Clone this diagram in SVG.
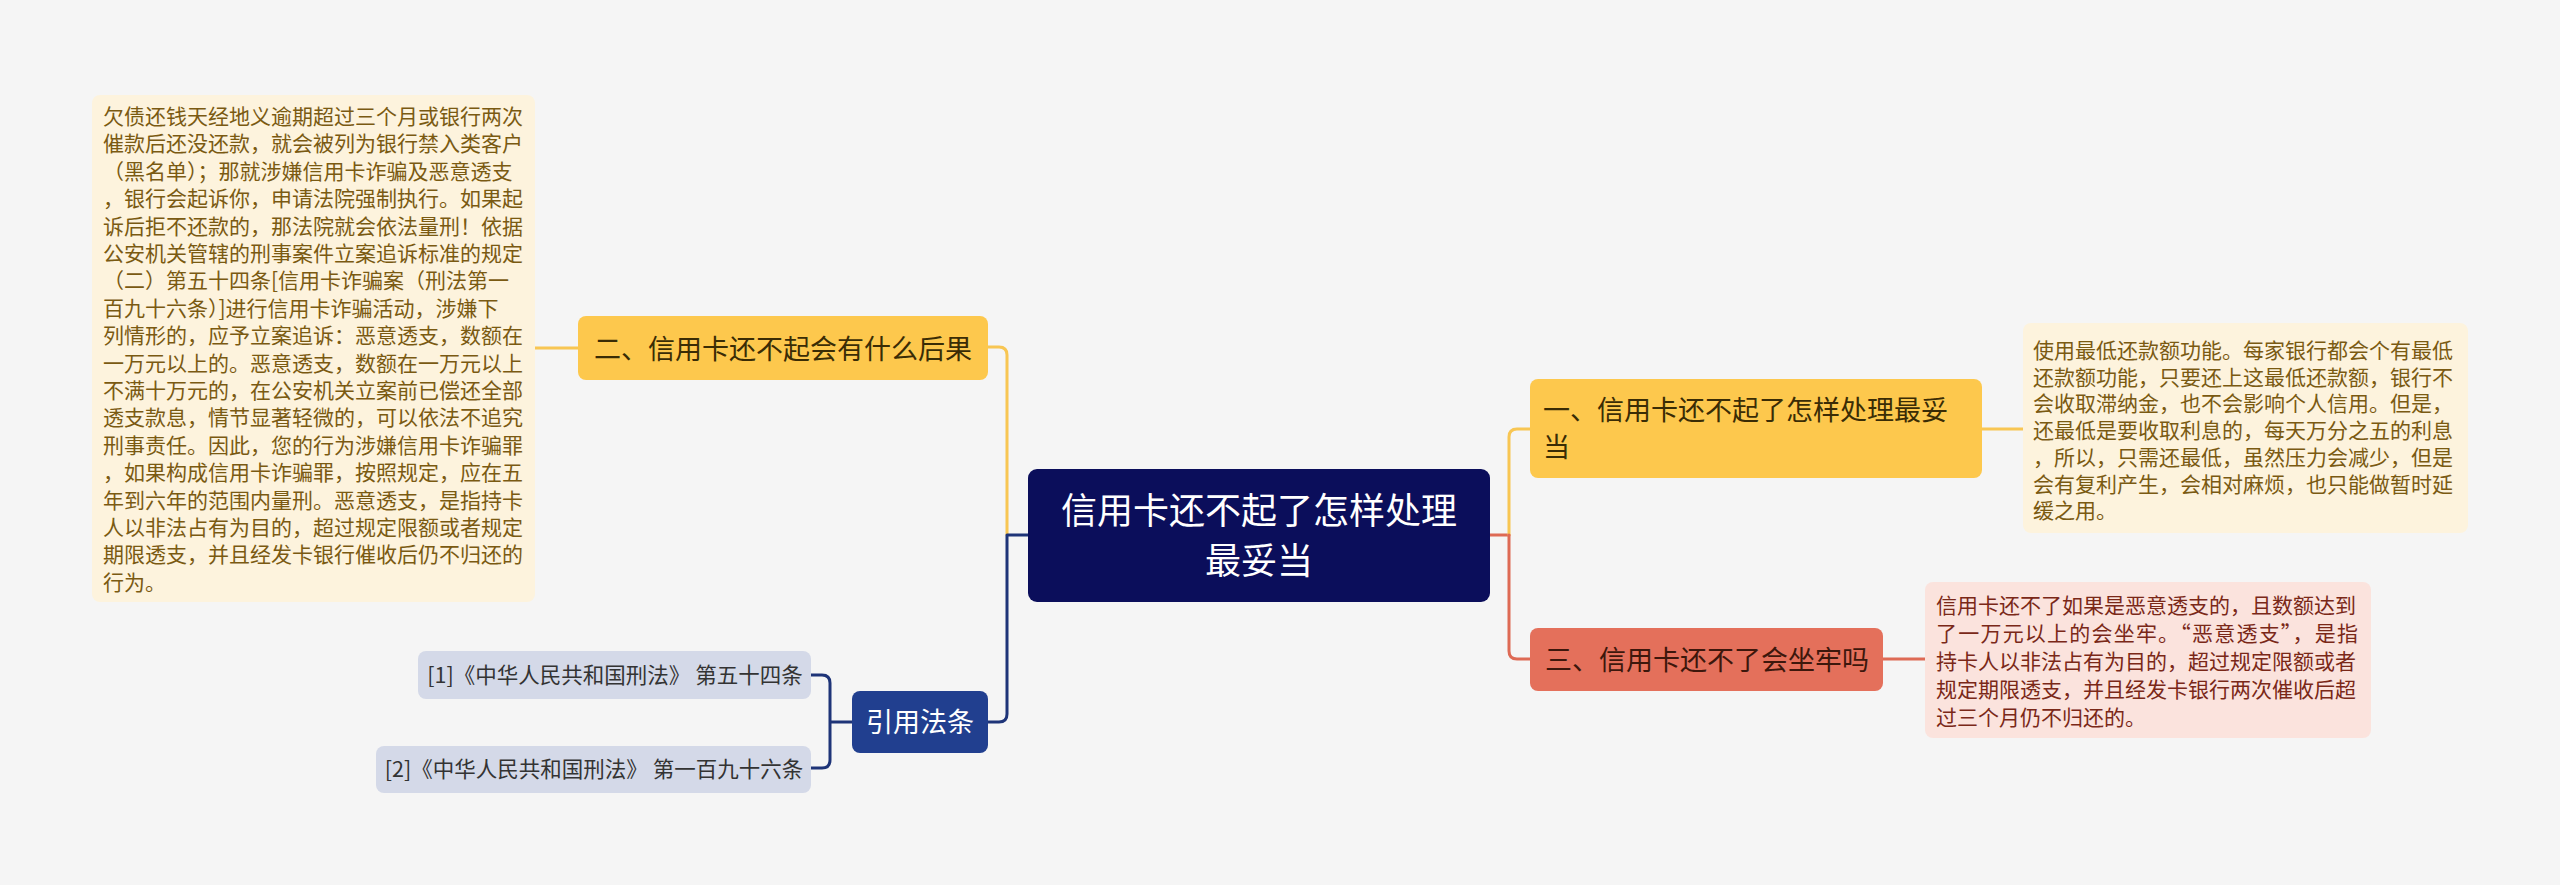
<svg xmlns="http://www.w3.org/2000/svg" width="2560" height="885" viewBox="0 0 2560 885">
<style>
text{font-family:"Noto Sans CJK SC","Noto Sans",sans-serif}
.c{fill:none;stroke-width:3;stroke-linecap:round;stroke-linejoin:round}
.y{stroke:#f8c653}.n{stroke:#1e3478}.r{stroke:#de6a55}
.body{font-size:21px}
.yb{fill:#fdf3dd}.ybt{fill:#7a5a12}
.rb{fill:#fbe3dd}.rbt{fill:#7a2818}
.lvl1{font-size:27px}
</style>
<rect width="2560" height="885" fill="#f5f5f5"/>
<g id="connectors">
<path class="c y" d="M988 347H999Q1007 347 1007 355V535"/>
<path class="c n" d="M1028 535H1007V714Q1007 722 999 722H988"/>
<path class="c y" d="M535 348H578"/>
<path class="c n" d="M852 722H830M811 675H822Q830 675 830 683V760Q830 768 822 768H811"/>
<path class="c r" d="M1490 535H1509"/>
<path class="c y" d="M1509 535V437Q1509 429 1517 429H1530"/>
<path class="c r" d="M1509 535V651Q1509 659 1517 659H1530"/>
<path class="c y" d="M1982 429H2023"/>
<path class="c r" d="M1883 659H1925"/>
</g>
<g id="root">
<rect x="1028" y="469" width="462" height="133" rx="9" fill="#0b0e5b"/>
<text x="1259" y="524" font-size="36" fill="#ffffff" text-anchor="middle">信用卡还不起了怎样处理</text>
<text x="1259" y="574" font-size="36" fill="#ffffff" text-anchor="middle">最妥当</text>
</g>
<g id="node-er">
<rect x="578" y="316" width="410" height="64" rx="8" fill="#fdc84d"/>
<text x="783" y="359" class="lvl1" fill="#3a2c05" text-anchor="middle">二、信用卡还不起会有什么后果</text>
</g>
<g id="node-er-text">
<rect x="92" y="95" width="443" height="507" rx="8" class="yb"/>
<text class="body ybt" x="103">
<tspan x="103" y="124">欠债还钱天经地义逾期超过三个月或银行两次</tspan>
<tspan x="103" y="151.4">催款后还没还款，就会被列为银行禁入类客户</tspan>
<tspan x="103" y="178.8">（黑名单）；那就涉嫌信用卡诈骗及恶意透支</tspan>
<tspan x="103" y="206.2">，银行会起诉你，申请法院强制执行。如果起</tspan>
<tspan x="103" y="233.6">诉后拒不还款的，那法院就会依法量刑！依据</tspan>
<tspan x="103" y="261">公安机关管辖的刑事案件立案追诉标准的规定</tspan>
<tspan x="103" y="288.4">（二）第五十四条[信用卡诈骗案（刑法第一</tspan>
<tspan x="103" y="315.8">百九十六条）]进行信用卡诈骗活动，涉嫌下</tspan>
<tspan x="103" y="343.2">列情形的，应予立案追诉：恶意透支，数额在</tspan>
<tspan x="103" y="370.6">一万元以上的。恶意透支，数额在一万元以上</tspan>
<tspan x="103" y="398">不满十万元的，在公安机关立案前已偿还全部</tspan>
<tspan x="103" y="425.4">透支款息，情节显著轻微的，可以依法不追究</tspan>
<tspan x="103" y="452.8">刑事责任。因此，您的行为涉嫌信用卡诈骗罪</tspan>
<tspan x="103" y="480.2">，如果构成信用卡诈骗罪，按照规定，应在五</tspan>
<tspan x="103" y="507.6">年到六年的范围内量刑。恶意透支，是指持卡</tspan>
<tspan x="103" y="535">人以非法占有为目的，超过规定限额或者规定</tspan>
<tspan x="103" y="562.4">期限透支，并且经发卡银行催收后仍不归还的</tspan>
<tspan x="103" y="589.8">行为。</tspan>
</text>
</g>
<g id="node-law">
<rect x="852" y="691" width="136" height="62" rx="8" fill="#213f8f"/>
<text x="920" y="732" class="lvl1" fill="#ffffff" text-anchor="middle">引用法条</text>
</g>
<g id="node-ref1">
<rect x="418" y="651" width="393" height="48" rx="8" fill="#d4d9e8"/>
<text x="615" y="683" font-size="21.5" fill="#333333" text-anchor="middle">[1]《中华人民共和国刑法》 第五十四条</text>
</g>
<g id="node-ref2">
<rect x="376" y="746" width="435" height="47" rx="8" fill="#d4d9e8"/>
<text x="594" y="777" font-size="21.5" fill="#333333" text-anchor="middle">[2]《中华人民共和国刑法》 第一百九十六条</text>
</g>
<g id="node-yi">
<rect x="1530" y="379" width="452" height="99" rx="8" fill="#fdc84d"/>
<text class="lvl1" fill="#3a2c05">
<tspan x="1543" y="420">一、信用卡还不起了怎样处理最妥</tspan>
<tspan x="1543" y="457">当</tspan>
</text>
</g>
<g id="node-yi-text">
<rect x="2023" y="323" width="445" height="210" rx="8" class="yb"/>
<text class="body ybt">
<tspan x="2033" y="358">使用最低还款额功能。每家银行都会个有最低</tspan>
<tspan x="2033" y="384.7">还款额功能，只要还上这最低还款额，银行不</tspan>
<tspan x="2033" y="411.4">会收取滞纳金，也不会影响个人信用。但是，</tspan>
<tspan x="2033" y="438.1">还最低是要收取利息的，每天万分之五的利息</tspan>
<tspan x="2033" y="464.8">，所以，只需还最低，虽然压力会减少，但是</tspan>
<tspan x="2033" y="491.5">会有复利产生，会相对麻烦，也只能做暂时延</tspan>
<tspan x="2033" y="518.2">缓之用。</tspan>
</text>
</g>
<g id="node-san">
<rect x="1530" y="628" width="353" height="63" rx="8" fill="#e4705b"/>
<text x="1707" y="670" class="lvl1" fill="#3d170c" text-anchor="middle">三、信用卡还不了会坐牢吗</text>
</g>
<g id="node-san-text">
<rect x="1925" y="582" width="446" height="156" rx="8" class="rb"/>
<text class="body rbt" x="1936" y="613">信用卡还不了如果是恶意透支的，且数额达到</text>
<text class="body rbt" x="1936" y="641" textLength="422" lengthAdjust="spacing">了一万元以上的会坐牢。“恶意透支”，是指</text>
<text class="body rbt" x="1936" y="669">持卡人以非法占有为目的，超过规定限额或者</text>
<text class="body rbt" x="1936" y="697">规定期限透支，并且经发卡银行两次催收后超</text>
<text class="body rbt" x="1936" y="725">过三个月仍不归还的。</text>
</g>
</svg>
